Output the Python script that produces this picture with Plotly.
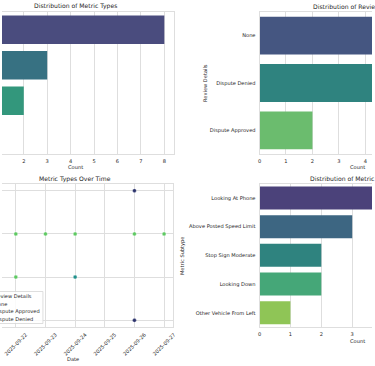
import colorsys
import plotly.graph_objects as go

W, H = 375, 366

# ---------------- data ----------------
metric_types = ["Distracted Driving", "Speeding", "Stop Sign Violation", "Collision Warning"]
metric_type_counts = [8, 3, 2, 1]

review_details = ["None", "Dispute Denied", "Dispute Approved"]
review_counts = [7, 5, 2]

metric_subtypes = ["Looking At Phone", "Above Posted Speed Limit", "Stop Sign Moderate",
                   "Looking Down", "Other Vehicle From Left"]
metric_subtype_counts = [6, 3, 2, 2, 1]

event_dates = ["2025-09-21", "2025-09-21", "2025-09-21", "2025-09-21", "2025-09-21",
               "2025-09-22", "2025-09-22", "2025-09-23", "2025-09-24", "2025-09-24",
               "2025-09-26", "2025-09-26", "2025-09-26", "2025-09-27"]
event_types = ["Distracted Driving", "Distracted Driving", "Distracted Driving", "Speeding",
               "Stop Sign Violation",
               "Distracted Driving", "Speeding", "Distracted Driving", "Distracted Driving",
               "Speeding", "Stop Sign Violation", "Distracted Driving", "Collision Warning",
               "Distracted Driving"]
event_reviews = ["None", "Dispute Denied", "Dispute Denied", "Dispute Approved",
                 "Dispute Denied",
                 "None", "None", "None", "None", "Dispute Approved", "Dispute Denied",
                 "None", "Dispute Denied", "None"]
scatter_type_order = ["Collision Warning", "Speeding", "Distracted Driving", "Stop Sign Violation"]
legend_order = ["None", "Dispute Approved", "Dispute Denied"]

# ---------------- styles ----------------
def desat(hexc, prop=0.75):
    r, g, b = (int(hexc[i:i + 2], 16) / 255 for i in (1, 3, 5))
    h, l, s = colorsys.rgb_to_hls(r, g, b)
    r, g, b = colorsys.hls_to_rgb(h, l, s * prop)
    return "#%02x%02x%02x" % (round(r * 255), round(g * 255), round(b * 255))

type_colors = [desat(c) for c in ["#414487", "#2a788e", "#22a884", "#7ad151"]]
review_colors = [desat(c) for c in ["#3b528b", "#21918c", "#5ec962"]]
subtype_colors = [desat(c) for c in ["#443983", "#31688e", "#21918c", "#35b779", "#8fd744"]]
scatter_colors = {"None": "#5ec962", "Dispute Approved": "#21918c", "Dispute Denied": "#2c336c"}

TXT = "#262626"
GRID = "#dedede"
FONT = "DejaVu Sans"
TICK = dict(family=FONT, size=5.1, color=TXT)


def xp(px):
    return px / W


def yp(py):
    return 1 - py / H


fig = go.Figure()

fig.add_trace(go.Bar(x=metric_type_counts, y=metric_types, orientation="h",
                     marker=dict(color=type_colors, line=dict(width=0)),
                     width=0.8, xaxis="x", yaxis="y", showlegend=False))
fig.add_trace(go.Bar(x=review_counts, y=review_details, orientation="h",
                     marker=dict(color=review_colors, line=dict(width=0)),
                     width=0.8, xaxis="x2", yaxis="y2", showlegend=False))
for rv in legend_order:
    idx = [i for i, r in enumerate(event_reviews) if r == rv]
    fig.add_trace(go.Scatter(x=[event_dates[i] for i in idx], y=[event_types[i] for i in idx],
                             mode="markers", name=rv,
                             marker=dict(color=scatter_colors[rv], size=4,
                                         line=dict(color="white", width=0.4)),
                             xaxis="x3", yaxis="y3", showlegend=False))
fig.add_trace(go.Bar(x=metric_subtype_counts, y=metric_subtypes, orientation="h",
                     marker=dict(color=subtype_colors, line=dict(width=0)),
                     width=0.8, xaxis="x4", yaxis="y4", showlegend=False))

common_x = dict(showgrid=True, gridcolor=GRID, gridwidth=1, zeroline=False,
                showline=True, linecolor=GRID, linewidth=1, mirror=True,
                ticks="", tickfont=TICK, ticklabelstandoff=2)

fig.update_layout(
    width=W, height=H, margin=dict(l=0, r=0, t=0, b=0),
    paper_bgcolor="white", plot_bgcolor="white",
    font=dict(family=FONT, color=TXT),
    xaxis=dict(domain=[0, xp(174)], range=[1.07, 8.4], dtick=1, anchor="y", **common_x),
    yaxis=dict(domain=[yp(154), yp(12)], anchor="x", type="category",
               categoryarray=metric_types, range=[3.5, -0.5], showgrid=False,
               showticklabels=False, side="right", showline=True, linecolor=GRID,
               zeroline=False, ticks=""),
    xaxis2=dict(domain=[xp(261), 1], range=[0, 4.25], dtick=1, anchor="y2", **common_x),
    yaxis2=dict(domain=[yp(154), yp(12)], anchor="x2", type="category",
                categoryarray=review_details, range=[2.5, -0.5], showgrid=False,
                showline=True, linecolor=GRID, zeroline=False, ticks="",
                tickfont=TICK, ticklabelstandoff=2),
    xaxis3=dict(domain=[0, xp(173.3)], type="date",
                range=["2025-09-21 12:49", "2025-09-27 07:12"],
                tick0="2025-09-21", dtick=86400000, tickformat="%Y-%m-%d",
                tickangle=-45, ticklabelshift=10, anchor="y3", **common_x),
    yaxis3=dict(domain=[yp(326.8), yp(184.2)], anchor="x3", type="category",
                categoryarray=scatter_type_order, range=[-0.15, 3.15],
                showgrid=True, gridcolor=GRID, showticklabels=False, side="right",
                showline=True, linecolor=GRID, zeroline=False, ticks=""),
    xaxis4=dict(domain=[xp(261), 1], range=[0, 3.64], dtick=1, anchor="y4", **common_x),
    yaxis4=dict(domain=[yp(327.1), yp(183.6)], anchor="x4", type="category",
                categoryarray=metric_subtypes, range=[4.5, -0.5], showgrid=False,
                showline=True, linecolor=GRID, zeroline=False, ticks="",
                tickfont=TICK, ticklabelstandoff=2),
)

ann = []


def text(s, x, y, size=5.1, angle=0, xanchor="center"):
    ann.append(dict(text=s, x=xp(x), y=yp(y), xref="paper", yref="paper",
                    showarrow=False, xanchor=xanchor, yanchor="middle",
                    borderpad=0, borderwidth=0,
                    textangle=angle, font=dict(family=FONT, size=size, color=TXT)))


text("Distribution of Metric Types", 74.3, 6.5, 6.1)
text("Distribution of Review Details", 360.5, 6.5, 6.1)
text("Metric Types Over Time", 74.3, 179, 6.1)
text("Distribution of Metric Subtypes", 360.5, 179, 6.1)
text("Count", 74.3, 167)
text("Count", 360.5, 167)
text("Count", 360.5, 340.5)
text("Date", 72, 359)
text("Review Details", 205.7, 83, angle=-90)
text("Metric Subtype", 183, 255.5, angle=-90)

# legend of the scatter panel (partly outside the view)
fig.add_shape(type="rect", xref="paper", yref="paper",
              x0=xp(-60), x1=xp(41.5), y0=yp(323.5), y1=yp(291.5),
              fillcolor="rgba(255,255,255,0.85)", line=dict(color="#d6d6d6", width=0.8),
              layer="above")
text("Review Details", -8.6, 296, xanchor="left")
for i, rv in enumerate(legend_order):
    text(rv, -8.0, 304 + 7.8 * i, xanchor="left")

fig.update_layout(annotations=ann)
fig.write_html("out.html", config={"displayModeBar": False},
               post_script="document.body.style.margin='0';document.body.style.overflow='hidden';")
